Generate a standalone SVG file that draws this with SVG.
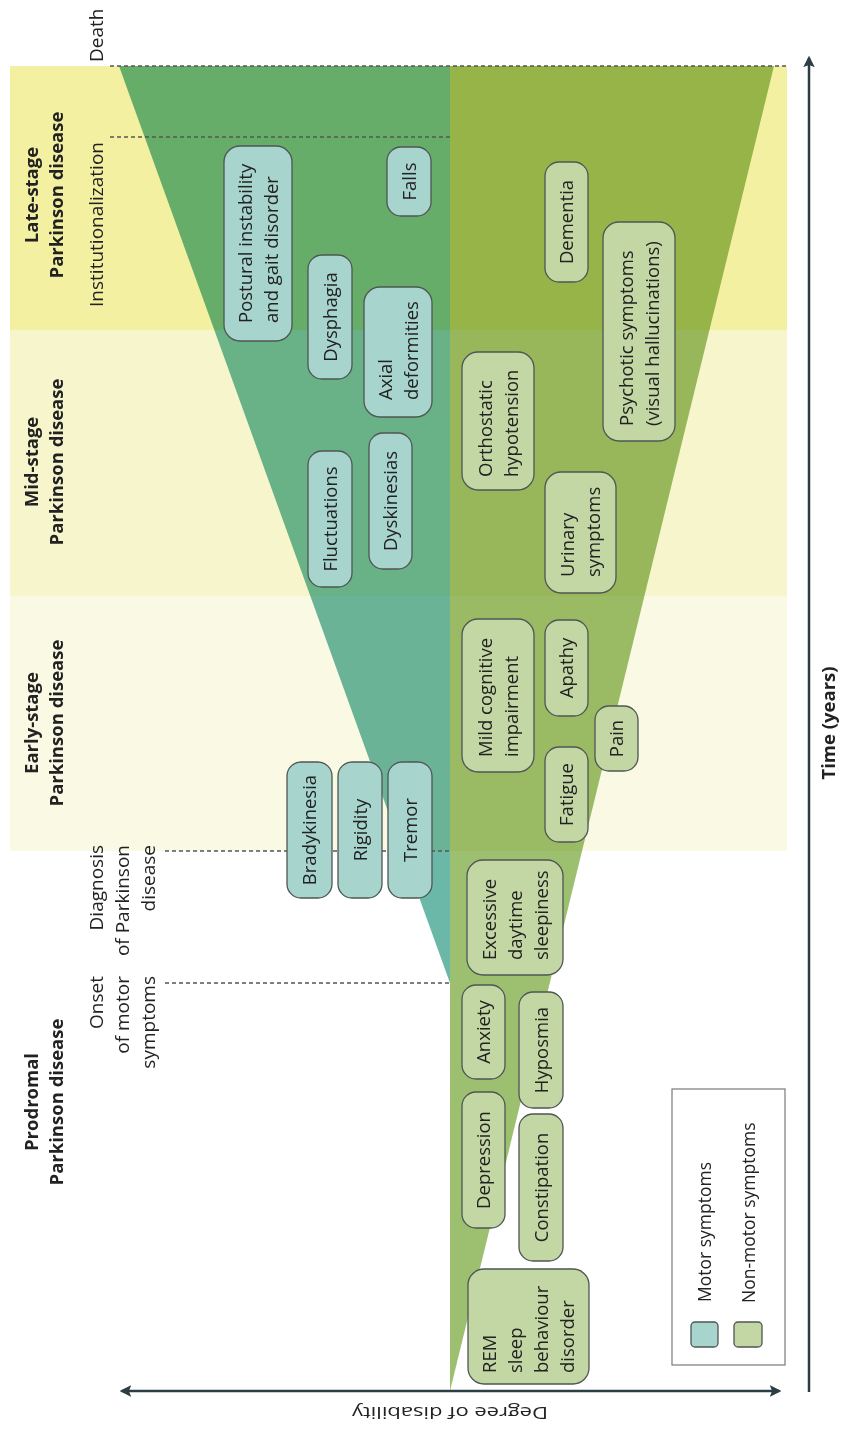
<svg xmlns="http://www.w3.org/2000/svg" width="841" height="1435" viewBox="0 0 841 1435">
<style>
text{font-family:"Open Sans","Noto Sans","Liberation Sans",sans-serif;fill:#222;}
.t{font-size:18.5px;}
.lb{font-size:19px;}
.bold{font-size:18.5px;font-weight:700;}
.m{fill:#a7d4cc;stroke:#4f5654;stroke-width:1.3;}
.n{fill:#c3d7a5;stroke:#4f5654;stroke-width:1.3;}
.dash{stroke:#555;stroke-width:1.3;stroke-dasharray:4 3;fill:none;}
.axis{stroke:#2b3e46;stroke-width:2.5;fill:none;}
.mul{mix-blend-mode:multiply;}
</style>
<defs>
<marker id="ah" viewBox="0 0 10 10" refX="8" refY="5" markerWidth="4.6" markerHeight="4.6" orient="auto-start-reverse" markerUnits="strokeWidth">
<path d="M0,0 L10,5 L0,10 L2,5 z" fill="#2b3e46"/>
</marker>
</defs>
<rect width="841" height="1435" fill="#ffffff"/>

<g id="bands">
<rect x="10" y="66" width="777" height="264" fill="#f3f0a1"/>
<rect x="10" y="330" width="777" height="266" fill="#f7f5cc"/>
<rect x="10" y="596" width="777" height="255" fill="#faf9e4"/>
</g>

<g id="regions">
<polygon class="mul" points="119,66 450,66 450,983" fill="#6cb8a8"/>
<polygon class="mul" points="450,66 774,66 450,1391" fill="#9dbf70"/>
</g>

<g id="connectors">
<line class="dash" x1="110" y1="66" x2="787" y2="66"/>
<line class="dash" x1="110" y1="137" x2="450" y2="137"/>
<line class="dash" x1="165" y1="851" x2="450" y2="851"/>
<line class="dash" x1="165" y1="983" x2="450" y2="983"/>
<line class="axis" x1="809" y1="1392" x2="809" y2="58" marker-end="url(#ah)"/>
<line class="axis" x1="122" y1="1391" x2="779" y2="1391" marker-start="url(#ah)" marker-end="url(#ah)"/>
</g>

<g id="labels">
<text class="lb" transform="translate(103,62) rotate(-90)">Death</text>
<text class="bold" transform="translate(38,195) rotate(-90)" text-anchor="middle">Late-stage<tspan x="0" dy="25">Parkinson disease</tspan></text>
<text class="lb" transform="translate(103,142) rotate(-90)" text-anchor="end">Institutionalization</text>
<text class="bold" transform="translate(38,462) rotate(-90)" text-anchor="middle">Mid-stage<tspan x="0" dy="25">Parkinson disease</tspan></text>
<text class="bold" transform="translate(38,723) rotate(-90)" text-anchor="middle">Early-stage<tspan x="0" dy="25">Parkinson disease</tspan></text>
<text class="lb" transform="translate(103,845) rotate(-90)" text-anchor="end">Diagnosis<tspan x="0" dy="26">of Parkinson</tspan><tspan x="0" dy="26">disease</tspan></text>
<text class="lb" transform="translate(103,976) rotate(-90)" text-anchor="end">Onset<tspan x="0" dy="26">of motor</tspan><tspan x="0" dy="26">symptoms</tspan></text>
<text class="bold" transform="translate(38,1102) rotate(-90)" text-anchor="middle">Prodromal<tspan x="0" dy="25">Parkinson disease</tspan></text>
<text class="bold" transform="translate(835,723) rotate(-90)" text-anchor="middle">Time (years)</text>
<text class="lb" transform="translate(450,1407) rotate(180)" text-anchor="middle" textLength="196" lengthAdjust="spacingAndGlyphs" style="font-size:17px">Degree of disability</text>
</g>

<g id="node-postural"><rect class="m" x="224" y="146" width="68" height="195" rx="16"/><text class="t" transform="translate(251.5,323) rotate(-90)">Postural instability<tspan x="0" dy="26">and gait disorder</tspan></text></g>
<g id="node-falls"><rect class="m" x="387" y="147" width="44" height="69" rx="14"/><text class="t" transform="translate(415.5,181.5) rotate(-90)" text-anchor="middle">Falls</text></g>
<g id="node-dysphagia"><rect class="m" x="308" y="255" width="44" height="124" rx="14"/><text class="t" transform="translate(336.5,317) rotate(-90)" text-anchor="middle">Dysphagia</text></g>
<g id="node-axial"><rect class="m" x="364" y="287" width="68" height="130" rx="16"/><text class="t" transform="translate(391.5,400) rotate(-90)">Axial<tspan x="0" dy="26">deformities</tspan></text></g>
<g id="node-fluctuations"><rect class="m" x="308" y="451" width="44" height="136" rx="14"/><text class="t" transform="translate(336.5,519) rotate(-90)" text-anchor="middle">Fluctuations</text></g>
<g id="node-dyskinesias"><rect class="m" x="369" y="433" width="43" height="136" rx="14"/><text class="t" transform="translate(397,501) rotate(-90)" text-anchor="middle">Dyskinesias</text></g>
<g id="node-bradykinesia"><rect class="m" x="287" y="762" width="45" height="136" rx="14"/><text class="t" transform="translate(316,830) rotate(-90)" text-anchor="middle">Bradykinesia</text></g>
<g id="node-rigidity"><rect class="m" x="338" y="762" width="44" height="136" rx="14"/><text class="t" transform="translate(366.5,830) rotate(-90)" text-anchor="middle">Rigidity</text></g>
<g id="node-tremor"><rect class="m" x="388" y="762" width="44" height="136" rx="14"/><text class="t" transform="translate(416.5,830) rotate(-90)" text-anchor="middle">Tremor</text></g>

<g id="node-dementia"><rect class="n" x="545" y="162" width="43" height="120" rx="14"/><text class="t" transform="translate(573,222) rotate(-90)" text-anchor="middle">Dementia</text></g>
<g id="node-psychotic"><rect class="n" x="603" y="222" width="72" height="219" rx="16"/><text class="t" transform="translate(632.5,426) rotate(-90)">Psychotic symptoms<tspan x="0" dy="26">(visual hallucinations)</tspan></text></g>
<g id="node-orthostatic"><rect class="n" x="462" y="352" width="72" height="138" rx="16"/><text class="t" transform="translate(491.5,477) rotate(-90)">Orthostatic<tspan x="0" dy="26">hypotension</tspan></text></g>
<g id="node-urinary"><rect class="n" x="545" y="472" width="71" height="121" rx="16"/><text class="t" transform="translate(574,577) rotate(-90)">Urinary<tspan x="0" dy="26">symptoms</tspan></text></g>
<g id="node-mci"><rect class="n" x="462" y="619" width="72" height="153" rx="16"/><text class="t" transform="translate(491.5,757) rotate(-90)">Mild cognitive<tspan x="0" dy="26">impairment</tspan></text></g>
<g id="node-apathy"><rect class="n" x="545" y="620" width="43" height="96" rx="14"/><text class="t" transform="translate(573,668) rotate(-90)" text-anchor="middle">Apathy</text></g>
<g id="node-pain"><rect class="n" x="595" y="706" width="43" height="65" rx="14"/><text class="t" transform="translate(623,738.5) rotate(-90)" text-anchor="middle">Pain</text></g>
<g id="node-fatigue"><rect class="n" x="545" y="747" width="43" height="95" rx="14"/><text class="t" transform="translate(573,794.5) rotate(-90)" text-anchor="middle">Fatigue</text></g>
<g id="node-eds"><rect class="n" x="467" y="860" width="96" height="115" rx="16"/><text class="t" transform="translate(495.5,960) rotate(-90)">Excessive<tspan x="0" dy="26">daytime</tspan><tspan x="0" dy="26">sleepiness</tspan></text></g>
<g id="node-anxiety"><rect class="n" x="462" y="985" width="43" height="94" rx="14"/><text class="t" transform="translate(490,1032) rotate(-90)" text-anchor="middle">Anxiety</text></g>
<g id="node-hyposmia"><rect class="n" x="519" y="992" width="44" height="116" rx="14"/><text class="t" transform="translate(547.5,1050) rotate(-90)" text-anchor="middle">Hyposmia</text></g>
<g id="node-depression"><rect class="n" x="462" y="1092" width="43" height="136" rx="14"/><text class="t" transform="translate(490,1160) rotate(-90)" text-anchor="middle">Depression</text></g>
<g id="node-constipation"><rect class="n" x="519" y="1114" width="44" height="147" rx="14"/><text class="t" transform="translate(547.5,1187.5) rotate(-90)" text-anchor="middle">Constipation</text></g>
<g id="node-rem"><rect class="n" x="468" y="1269" width="121" height="115" rx="16"/><text class="t" transform="translate(496,1373) rotate(-90)">REM<tspan x="0" dy="26">sleep</tspan><tspan x="0" dy="26">behaviour</tspan><tspan x="0" dy="26">disorder</tspan></text></g>

<g id="legend">
<rect x="672" y="1089" width="113" height="276" fill="#ffffff" stroke="#7a7a7a" stroke-width="1.2"/>
<rect class="m" x="691" y="1322" width="27" height="25" rx="4"/>
<rect class="n" x="734" y="1322" width="28" height="25" rx="4"/>
<text style="font-size:17.5px" transform="translate(711,1302) rotate(-90)">Motor symptoms</text>
<text style="font-size:17.5px" transform="translate(755,1303) rotate(-90)">Non-motor symptoms</text>
</g>
</svg>
